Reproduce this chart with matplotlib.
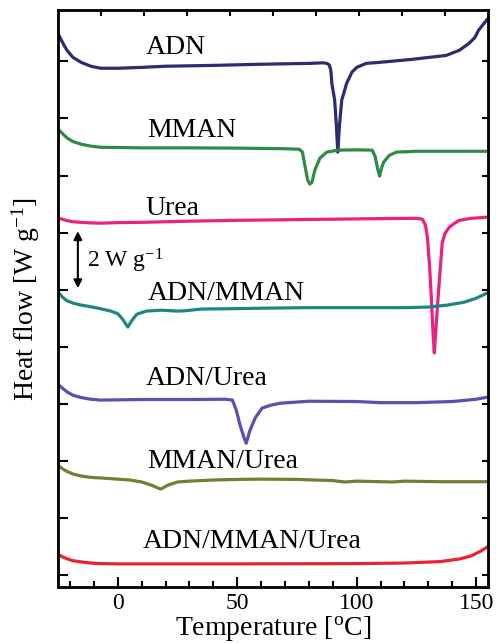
import numpy as np
import matplotlib.pyplot as plt
from matplotlib.ticker import MultipleLocator, NullFormatter

plt.rcParams['font.family'] = ['Liberation Serif', 'DejaVu Serif']
plt.rcParams['mathtext.fontset'] = 'custom'
plt.rcParams['mathtext.rm'] = 'Liberation Serif'
plt.rcParams['mathtext.it'] = 'Liberation Serif:italic'

# Données (température en °C, flux de chaleur décalé en W/g)
t_adn = [-24.6, -22.9, -21.25, -18.75, -15.4, -11.25, -7.1, 0, 10, 20, 40, 60, 80, 86, 87.5, 88.5, 89.2,
         89.6, 90.8, 91.5, 92.1, 92.8, 93.75, 95.8, 98, 100, 104, 110, 123, 137.5, 143, 147, 149.5, 151,
         153, 154.6]
hf_adn = [18.91, 18.63, 18.39, 18.14, 17.97, 17.83, 17.76, 17.76, 17.79, 17.83, 17.86, 17.90, 17.93, 17.95,
          17.93, 17.88, 17.69, 17.23, 16.64, 15.76, 14.82, 15.76, 16.64, 17.23, 17.62, 17.79, 17.93, 17.97,
          18.07, 18.21, 18.39, 18.63, 18.84, 19.09, 19.30, 19.47]

t_mman = [-24.6, -22.9, -21.25, -18.75, -15.4, -11.25, -7.1, 10, 30, 50, 70, 76, 77.3, 78.3, 79.5, 80.4,
          81.3, 82.5, 84.6, 87.5, 92, 100, 106.5, 107.7, 108.7, 109.6, 110.4, 111.3, 113.7, 116.7, 125,
          140, 154.6]
hf_mman = [15.59, 15.45, 15.32, 15.19, 15.10, 15.03, 14.99, 14.97, 14.97, 14.96, 14.94, 14.92, 14.82,
           14.36, 13.84, 13.70, 13.77, 14.19, 14.61, 14.82, 14.89, 14.90, 14.89, 14.68, 14.26, 13.98, 14.26,
           14.47, 14.71, 14.82, 14.85, 14.85, 14.85]

t_urea = [-24.6, -22.9, -21.25, -18.75, -15.4, -11.25, -7.1, 0, 10, 30, 50, 70, 90, 110, 125, 127.5,
          128.8, 129.6, 130.5, 131.3, 132, 132.5, 133, 134, 135, 135.8, 137, 138.8, 141, 143, 148, 154.6]
hf_urea = [12.50, 12.46, 12.42, 12.38, 12.36, 12.34, 12.33, 12.35, 12.36, 12.40, 12.43, 12.45, 12.47,
           12.49, 12.50, 12.47, 12.26, 11.84, 10.86, 9.63, 8.41, 7.78, 8.41, 9.63, 10.75, 11.63, 11.98,
           12.19, 12.33, 12.43, 12.50, 12.54]

t_adn_mman = [-24.6, -22.9, -21.25, -18.75, -15.4, -11.25, -7.1, -3, 0, 2, 4.2, 6, 8, 12, 18, 25, 28,
              35, 45, 60, 80, 100, 120, 130, 138, 145, 150, 154.6]
hf_adn_mman = [9.88, 9.72, 9.61, 9.53, 9.46, 9.40, 9.33, 9.25, 9.16, 8.97, 8.69, 8.93, 9.14, 9.25, 9.28,
               9.25, 9.26, 9.32, 9.33, 9.35, 9.37, 9.37, 9.37, 9.39, 9.46, 9.56, 9.70, 9.88]

t_adn_urea = [-24.6, -22.9, -21.25, -18.75, -15.4, -11.25, -7.1, 10, 30, 45, 48, 49.6, 51.2, 52.9, 53.75,
              55.4, 57.5, 60.4, 64, 68, 80, 100, 110, 125, 140, 150, 154.6]
hf_adn_urea = [6.65, 6.53, 6.42, 6.30, 6.22, 6.16, 6.13, 6.15, 6.15, 6.16, 6.13, 5.78, 5.25, 4.80, 4.62,
               5.08, 5.50, 5.85, 5.95, 6.02, 6.09, 6.08, 6.04, 6.04, 6.08, 6.16, 6.23]

t_mman_urea = [-24.6, -22.9, -21.25, -18.75, -15.4, -11.25, -7.1, 0, 5, 10, 14, 18, 21, 25, 30, 40, 50,
               60, 75, 90, 95, 100, 110, 115, 120, 135, 154.6]
hf_mman_urea = [3.82, 3.71, 3.63, 3.54, 3.47, 3.42, 3.40, 3.36, 3.33, 3.26, 3.15, 3.01, 3.15, 3.26, 3.29,
                3.33, 3.35, 3.36, 3.35, 3.31, 3.26, 3.29, 3.27, 3.26, 3.29, 3.27, 3.27]

t_all = [-24.6, -22.9, -21.25, -18.75, -15.4, -11.25, -7.1, 0, 50, 100, 120, 135, 143, 148, 152, 154.6]
hf_all = [0.70, 0.63, 0.57, 0.50, 0.46, 0.42, 0.40, 0.39, 0.39, 0.40, 0.42, 0.47, 0.56, 0.67, 0.84, 0.98]

courbes = [
    ("ADN", t_adn, hf_adn, "#2B2D6E", 11.7, 18.25),
    ("MMAN", t_mman, hf_mman, "#2E8B46", 12.5, 15.34),
    ("Urea", t_urea, hf_urea, "#EC2080", 11.7, 12.61),
    ("ADN/MMAN", t_adn_mman, hf_adn_mman, "#1E8585", 12.5, 9.63),
    ("ADN/Urea", t_adn_urea, hf_adn_urea, "#5A50B0", 11.7, 6.65),
    ("MMAN/Urea", t_mman_urea, hf_mman_urea, "#7A7A38", 12.5, 3.75),
    ("ADN/MMAN/Urea", t_all, hf_all, "#E8232E", 10.4, 0.95),
]

xmin, xmax = -25, 155
ymin, ymax = -0.42, 19.8

fig = plt.figure(figsize=(4.96, 6.43), dpi=100)
ax = fig.add_axes([0.117, 0.0871, 0.867, 0.8973])

for nom, t, hf, couleur, tx, ty in courbes:
    ax.plot(t, hf, color=couleur, lw=2.3, solid_capstyle='round', solid_joinstyle='round')
    ax.text(tx, ty, nom, fontsize=20, va='baseline', ha='left')

# Barre d'échelle
ax.annotate("", xy=(-16.7, 12.05), xytext=(-16.7, 10.05),
            arrowprops=dict(arrowstyle='<|-|>', lw=1.5, color='black', shrinkA=0, shrinkB=0,
                            mutation_scale=12))
ax.text(-12.8, 10.79, "2 W g$^{-1}$", fontsize=17, va='baseline', ha='left')

ax.set_xlim(xmin, xmax)
ax.set_ylim(ymin, ymax)
ax.xaxis.set_major_locator(MultipleLocator(50))
ax.xaxis.set_minor_locator(MultipleLocator(10))
ax.yaxis.set_major_locator(MultipleLocator(2))
ax.yaxis.set_major_formatter(NullFormatter())
ax.tick_params(axis='x', which='major', direction='in', length=7, width=1.5, labelsize=17, pad=4)
ax.tick_params(axis='x', which='minor', direction='in', length=4, width=1.5)
ax.tick_params(axis='y', which='major', direction='in', length=7, width=1.5)
for s in ax.spines.values():
    s.set_linewidth(2)

# Graduations haut et droite
ax_haut = ax.twiny()
ax_haut.set_xlim(xmin, xmax)
ax_haut.set_xticks(np.linspace(xmin, xmax, 11)[1:-1])
ax_haut.tick_params(axis='x', direction='in', length=4, width=1.5, labeltop=False)
ax_droite = ax.twinx()
ax_droite.set_ylim(ymin, ymax)
ax_droite.yaxis.set_major_locator(MultipleLocator(2))
ax_droite.tick_params(axis='y', direction='in', length=4, width=1.5, labelright=False)

ax.set_xlabel("Temperature [$^{\\rm o}$C]", fontsize=20, labelpad=0)
ax.set_ylabel("Heat flow [W g$^{-1}$]", fontsize=20, labelpad=8)

fig.savefig("out.png", dpi=100)
